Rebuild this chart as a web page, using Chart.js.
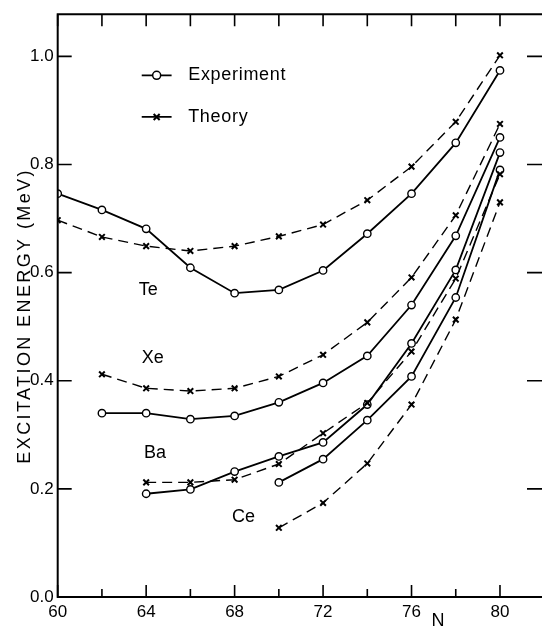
<!DOCTYPE html>
<html>
<head>
<meta charset="utf-8">
<script src="https://cdn.jsdelivr.net/npm/chart.js@4.4.1/dist/chart.umd.min.js"></script>
<style>
html,body{margin:0;padding:0;background:#fff}
#wrap{width:548px;height:637px}
</style>
</head>
<body>
<div id="wrap"><canvas id="myChart" width="548" height="637"></canvas></div>
<script>
// data (N = neutron number, energies in MeV)
const nTe = [60,62,64,66,68,70,72,74,76,78,80]
const teExp = [0.746,0.716,0.681,0.609,0.562,0.568,0.604,0.672,0.746,0.840,0.974]
const teTh = [0.697,0.666,0.649,0.640,0.649,0.667,0.689,0.734,0.796,0.879,1.002]

const nXe = [62,64,66,68,70,72,74,76,78,80]
const xeExp = [0.340,0.340,0.329,0.335,0.360,0.396,0.446,0.540,0.668,0.850]
const xeTh = [0.412,0.386,0.381,0.386,0.408,0.448,0.508,0.591,0.706,0.875]

const nBa = [64,66,68,70,72,74,76,78,80]
const baExp = [0.191,0.199,0.232,0.260,0.286,0.356,0.469,0.605,0.822]
const baTh = [0.212,0.212,0.217,0.246,0.303,0.359,0.454,0.589,0.782]

const nCe = [70,72,74,76,78,80]
const ceExp = [0.212,0.255,0.327,0.408,0.554,0.790]
const ceTh = [0.128,0.174,0.247,0.356,0.513,0.730]

const xTickLabels = [60,64,68,72,76,80]
const xMinorTicks = [60,62,64,66,68,70,72,74,76,78,80]
const yTickLabels = [0,0.2,0.4,0.6,0.8,1.0]

// element labels placed at (N, E)
const elemLabels = [
    {text:'Te', n:64.1, e:0.567},
    {text:'Xe', n:64.3, e:0.442},
    {text:'Ba', n:64.4, e:0.267},
    {text:'Ce', n:68.4, e:0.147}
]

const FONT = "'Liberation Sans', Arial, sans-serif"
const INK = '#000'

const pts = (ns, vals) => ns.map((n,i) => ({x:n, y:vals[i]}))

function expSet(ns, vals){
    return {
        data: pts(ns, vals),
        borderColor: INK,
        borderWidth: 1.8,
        pointStyle: 'circle',
        pointRadius: 3.7,
        pointBorderWidth: 1.4,
        pointBackgroundColor: '#fff',
        pointBorderColor: INK,
        tension: 0
    }
}
function thSet(ns, vals){
    return {
        data: pts(ns, vals),
        borderColor: INK,
        borderWidth: 1.4,
        borderDash: [10,6],
        pointStyle: 'crossRot',
        pointRadius: 4,
        pointBorderWidth: 2,
        pointBorderColor: INK,
        tension: 0
    }
}

const frame = {
    id: 'frame',
    afterDraw(chart){
        const {ctx, chartArea:a, scales:{x, y}} = chart
        ctx.save()
        ctx.strokeStyle = INK
        ctx.lineWidth = 2
        ctx.beginPath()
        ctx.moveTo(a.right, a.top); ctx.lineTo(a.left, a.top)
        ctx.lineTo(a.left, a.bottom); ctx.lineTo(a.right, a.bottom)
        ctx.stroke()
        ctx.lineWidth = 1.6
        ctx.beginPath()
        xMinorTicks.forEach(v => {
            const px = x.getPixelForValue(v)
            const len = xTickLabels.includes(v) ? 12 : 8
            ctx.moveTo(px, a.bottom); ctx.lineTo(px, a.bottom - len)
            ctx.moveTo(px, a.top); ctx.lineTo(px, a.top + 12)
        })
        yTickLabels.forEach(v => {
            const py = y.getPixelForValue(v)
            ctx.moveTo(a.left, py); ctx.lineTo(a.left + 14, py)
            ctx.moveTo(a.right, py); ctx.lineTo(a.right - 15, py)
        })
        ctx.stroke()

        // axis titles
        ctx.fillStyle = INK
        ctx.font = '18px ' + FONT
        ctx.textBaseline = 'middle'
        ctx.textAlign = 'center'
        ctx.save()
        ctx.translate(25, y.getPixelForValue(0.52))
        ctx.rotate(-Math.PI/2)
        ctx.letterSpacing = '2.4px'
        ctx.fillText('EXCITATION ENERGY (MeV)', 0, 0)
        ctx.restore()
        ctx.fillText('N', x.getPixelForValue(77.2), a.bottom + 24)

        // element names
        elemLabels.forEach(l => {
            ctx.fillText(l.text, x.getPixelForValue(l.n), y.getPixelForValue(l.e))
        })

        // legend
        ctx.textAlign = 'left'
        ctx.letterSpacing = '0.7px'
        const lx0 = x.getPixelForValue(63.8), lx1 = x.getPixelForValue(65.15)
        const mid = (lx0 + lx1) / 2
        const textX = x.getPixelForValue(65.9)
        const yExp = y.getPixelForValue(0.965), yTh = y.getPixelForValue(0.888)
        ctx.lineWidth = 1.8
        ctx.beginPath()
        ctx.moveTo(lx0, yExp); ctx.lineTo(lx1, yExp)
        ctx.moveTo(lx0, yTh); ctx.lineTo(lx1, yTh)
        ctx.stroke()
        ctx.fillStyle = '#fff'
        ctx.lineWidth = 1.5
        ctx.beginPath()
        ctx.arc(mid, yExp, 4, 0, Math.PI*2)
        ctx.fill(); ctx.stroke()
        ctx.lineWidth = 2
        ctx.beginPath()
        ctx.moveTo(mid-3, yTh-3); ctx.lineTo(mid+3, yTh+3)
        ctx.moveTo(mid-3, yTh+3); ctx.lineTo(mid+3, yTh-3)
        ctx.stroke()
        ctx.fillStyle = INK
        ctx.fillText('Experiment', textX, yExp)
        ctx.fillText('Theory', textX, yTh)
        ctx.restore()
    }
}

const ctx = document.getElementById('myChart').getContext('2d')
const myChart = new Chart(ctx, {
    type: 'line',
    data: {
        datasets: [
            thSet(nTe, teTh), expSet(nTe, teExp),
            thSet(nXe, xeTh), expSet(nXe, xeExp),
            thSet(nBa, baTh), expSet(nBa, baExp),
            thSet(nCe, ceTh), expSet(nCe, ceExp)
        ]
    },
    options: {
        responsive: false,
        animation: false,
        devicePixelRatio: 1,
        layout: {padding: {top: 11, left: 0, right: 0, bottom: 0}},
        plugins: {legend: {display: false}, tooltip: {enabled: false}},
        scales: {
            x: {
                type: 'linear',
                min: 60,
                max: 81.9,
                afterFit: s => { s.height = 40 },
                afterBuildTicks: s => { s.ticks = xTickLabels.map(v => ({value: v})) },
                grid: {display: false, drawTicks: false},
                border: {display: false},
                ticks: {
                    color: INK,
                    font: {family: FONT, size: 17},
                    padding: 5,
                    maxRotation: 0,
                    autoSkip: false,
                    callback: v => String(v)
                }
            },
            y: {
                type: 'linear',
                min: 0,
                max: 1.078,
                afterFit: s => { s.width = 57.7 },
                afterBuildTicks: s => { s.ticks = yTickLabels.map(v => ({value: v})) },
                grid: {display: false, drawTicks: false},
                border: {display: false},
                ticks: {
                    color: INK,
                    font: {family: FONT, size: 17},
                    padding: 4,
                    callback: v => Number(v).toFixed(1)
                }
            }
        }
    },
    plugins: [frame]
})
</script>
</body>
</html>
